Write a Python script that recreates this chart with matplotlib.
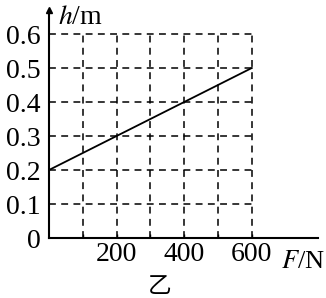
import matplotlib.pyplot as plt
import numpy as np

# data
F = [0, 600]          # N
h = [0.2, 0.5]        # m
xgrid = [100, 200, 300, 400, 500, 600]
ygrid = [0.1, 0.2, 0.3, 0.4, 0.5, 0.6]
xticks = [200, 400, 600]
xticklabels = ["200", "400", "600"]
yticks = [0, 0.1, 0.2, 0.3, 0.4, 0.5, 0.6]
yticklabels = ["0", "0.1", "0.2", "0.3", "0.4", "0.5", "0.6"]

plt.rcParams['font.family'] = ['Liberation Serif', 'DejaVu Serif']
plt.rcParams['mathtext.fontset'] = 'stix'

W, H = 326, 298
fig = plt.figure(figsize=(W / 100, H / 100), dpi=100)
# axes: origin at px (49, 238), x to 318 px, y to 10 px
ax = fig.add_axes([49 / W, (H - 238) / H, (318 - 49) / W, (238 - 10) / H])
ax.set_xlim(0, (318 - 49) / 33.8 * 100)
ax.set_ylim(0, (238 - 10) / 34 * 0.1)

for s in ['top', 'right']:
    ax.spines[s].set_visible(False)
for s in ['left', 'bottom']:
    ax.spines[s].set_linewidth(1.5)

# dashed grid
ax.vlines(xgrid, 0, max(ygrid), colors='k', linewidth=1.1, linestyles=(0, (4.5, 3.5)))
ax.hlines(ygrid, 0, max(xgrid), colors='k', linewidth=1.1, linestyles=(0, (4.5, 3.5)))

ax.plot(F, h, color='k', linewidth=1.3)

# arrow on y axis
ax.plot(0, 1, marker='^', color='k', markersize=5, transform=ax.get_xaxis_transform(), clip_on=False)

ax.set_xticks(xticks)
ax.set_xticklabels(xticklabels, fontsize=20)
ax.set_yticks(yticks)
ax.set_yticklabels(yticklabels, fontsize=20)
ax.set_xticks(xgrid, minor=True)
ax.tick_params(axis='x', which='both', direction='in', length=3, width=1, pad=3)
ax.tick_params(axis='y', length=0, pad=6)

fig.text(281 / W, 1 - 262 / H, "$F$/N", fontsize=19, va='center', ha='left')
fig.text(58 / W, 1 - 17 / H, "$h$/m", fontsize=20, va='center', ha='left')
fig.text(160 / W, 1 - 286 / H, "乙", fontsize=17, va='center', ha='center',
         family=['Noto Sans CJK SC', 'DejaVu Sans'])

fig.savefig("out.png", dpi=100)
